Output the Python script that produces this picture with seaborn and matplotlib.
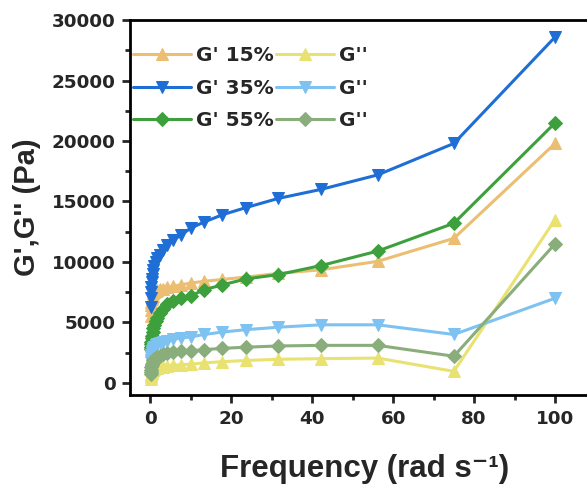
import numpy as np
import pandas as pd
import matplotlib
matplotlib.use("Agg")
import matplotlib.pyplot as plt
from matplotlib import font_manager as fm
from matplotlib.ticker import MultipleLocator
import seaborn as sns

freq = [0.1, 0.133, 0.178, 0.237, 0.316, 0.422, 0.562, 0.75, 1.0, 1.33, 1.78, 2.37,
        3.16, 4.22, 5.62, 7.5, 10.0, 13.3, 17.8, 23.7, 31.6, 42.2, 56.2, 75.0, 100.0]

g1_15 = [5500, 6000, 6400, 6700, 6900, 7100, 7200, 7400, 7500, 7600, 7700, 7750,
         7800, 7900, 8000, 8100, 8250, 8400, 8550, 8750, 9050, 9350, 10050, 11950, 19800]
g2_15 = [350, 500, 650, 750, 850, 950, 1050, 1100, 1150, 1200, 1250, 1300,
         1350, 1400, 1450, 1500, 1550, 1650, 1750, 1850, 1950, 2000, 2050, 950, 13500]
g1_35 = [6300, 7000, 7500, 7900, 8300, 8600, 9000, 9300, 9700, 10000, 10300, 10600,
         11000, 11400, 11800, 12200, 12800, 13300, 13900, 14500, 15250, 16000, 17200, 19800, 28600]
g2_35 = [1700, 1900, 2100, 2300, 2450, 2600, 2750, 2900, 3000, 3100, 3200, 3300,
         3400, 3500, 3600, 3700, 3800, 4000, 4200, 4400, 4600, 4800, 4800, 4000, 7000]
g1_55 = [2800, 3000, 3200, 3400, 3700, 3900, 4200, 4500, 4800, 5100, 5400, 5800,
         6100, 6500, 6800, 7000, 7200, 7700, 8100, 8600, 8950, 9700, 10900, 13200, 21500]
g2_55 = [700, 900, 1100, 1300, 1450, 1600, 1750, 1850, 1950, 2050, 2150, 2250,
         2350, 2450, 2550, 2600, 2650, 2750, 2850, 2950, 3050, 3100, 3100, 2200, 11500]

labels = ["G' 15%", "G' 35%", "G' 55%", "G''", "G''", "G''"]
series = [g1_15, g1_35, g1_55, g2_15, g2_35, g2_55]
colors = ["#EBBE72", "#1E6ED6", "#3DA03D", "#E9E271", "#7DC2F0", "#8AAE7B"]
markers = ["^", "v", "D", "^", "v", "D"]

sns.set_style("white")
plt.rcParams['font.family'] = ['Liberation Sans', 'DejaVu Sans']
plt.rcParams['font.weight'] = 'bold'

fig = plt.figure(figsize=(5.87, 4.90), dpi=100)
ax = fig.add_axes([0.2215, 0.194, 0.80, 0.765])

for lab, vals, c, m in zip(labels, series, colors, markers):
    ms = 7 if m == "D" else 8.5
    sns.lineplot(x=freq, y=vals, ax=ax, color=c, marker=m, markersize=ms,
                 markeredgecolor=c, linewidth=2.2, label=lab)

ax.set_xlim(-5, 111)
ax.set_ylim(-1000, 30000)
ax.xaxis.set_major_locator(MultipleLocator(20))
ax.xaxis.set_minor_locator(MultipleLocator(10))
ax.yaxis.set_major_locator(MultipleLocator(5000))
ax.yaxis.set_minor_locator(MultipleLocator(2500))
ax.tick_params(which='major', direction='out', length=5.5, width=2, labelsize=13.2,
               bottom=True, left=True, pad=5)
ax.tick_params(which='minor', direction='out', length=3.5, width=2, bottom=True, left=True)
for lbl in ax.get_xticklabels() + ax.get_yticklabels():
    lbl.set_fontweight('bold')
    lbl.set_fontfamily(['DejaVu Sans'])
for s in ['left', 'bottom', 'top']:
    ax.spines[s].set_linewidth(2)
    ax.spines[s].set_color('black')
ax.spines['right'].set_visible(False)

ax.set_xlabel("Frequency (rad s\u207b\u00b9)", fontsize=22.5, fontweight='bold', labelpad=19,
              family=['Liberation Sans', 'DejaVu Sans'])
ax.set_ylabel("G',G'' (Pa)", fontsize=21, fontweight='bold',
              family=['Liberation Sans', 'DejaVu Sans'])
ax.yaxis.set_label_coords(-0.19, 0.5)

ax.legend(ncol=2, loc='upper left', frameon=False,
          prop={'weight': 'bold', 'size': 14.5, 'family': 'DejaVu Sans'},
          bbox_to_anchor=(-0.02, 0.963), handlelength=2.9, handletextpad=0.25,
          columnspacing=0.1, labelspacing=0.68, borderaxespad=0.2)

fig.savefig("out.png", dpi=100)
